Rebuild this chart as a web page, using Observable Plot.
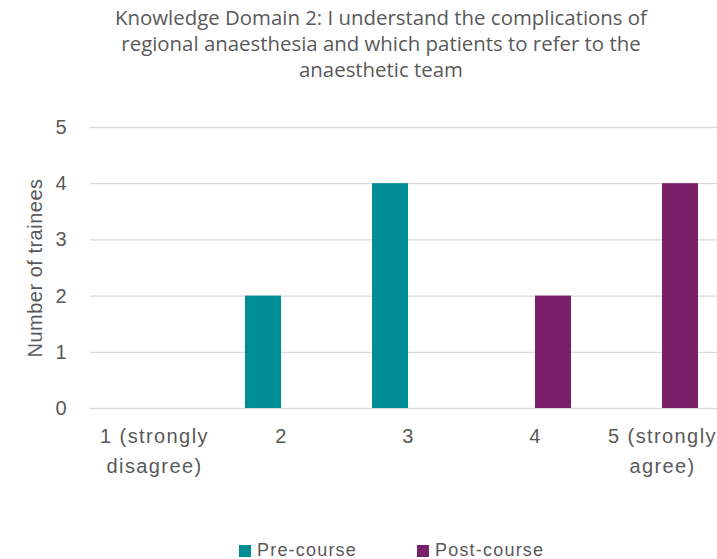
<!DOCTYPE html>
<html><head><meta charset="utf-8">
<script src="https://cdn.jsdelivr.net/npm/d3@7"></script>
<script src="https://cdn.jsdelivr.net/npm/@observablehq/plot@0.6"></script>
<style>
body{margin:0;background:#fff;}
#wrap{position:relative;width:717px;height:559px;overflow:hidden;background:#fff;}
#title{position:absolute;left:0;top:4px;width:762px;text-align:center;font-family:"Open Sans",sans-serif;font-size:20.4px;color:#595959;line-height:26px;}
#chart{position:absolute;left:0;top:100px;}
#legend{position:absolute;left:0;top:541px;width:717px;height:18px;font-family:"Liberation Sans",Arial,sans-serif;font-size:18px;line-height:18px;color:#595959;letter-spacing:1.2px;}
.sw{position:absolute;top:4px;width:12px;height:12px;}
.lt{position:absolute;top:0;white-space:nowrap;}
</style>
</head><body>
<div id="wrap">
  <div id="title"></div>
  <div id="chart"></div>
  <div id="legend"></div>
</div>
<script>
const titleLines = ["Knowledge Domain 2: I understand the complications of", "regional anaesthesia and which patients to refer to the", "anaesthetic team"];
const categories = ["1 (strongly disagree)", "2", "3", "4", "5 (strongly agree)"];
const tickLabels = ["1 (strongly\ndisagree)", "2", "3", "4", "5 (strongly\nagree)"];
const series = ["Pre-course", "Post-course"];
const colors = ["#008C95", "#7A1F6A"];
const preCourse = [0, 2, 4, 0, 0];
const postCourse = [0, 0, 0, 2, 4];
const yTicks = [0, 1, 2, 3, 4, 5];
const yLabel = "Number of trainees";

document.getElementById("title").innerHTML = titleLines.join("<br>");

const preData = categories.map((c, i) => ({cat: c, value: preCourse[i], series: series[0]}));
const postData = categories.map((c, i) => ({cat: c, value: postCourse[i], series: series[1]}));
const labelMap = new Map(categories.map((c, i) => [c, tickLabels[i]]));

const font = "'Liberation Sans', Arial, sans-serif";
const plot = Plot.plot({
  width: 717,
  height: 400,
  marginLeft: 90,
  marginRight: 0,
  marginTop: 27,
  marginBottom: 92,
  style: {fontFamily: font, color: "#595959", background: "transparent"},
  x: {type: "band", domain: categories, range: [88, 727], paddingInner: 0.718, paddingOuter: 0.359, align: 0.5},
  y: {domain: [0, 5]},
  color: {domain: series, range: colors},
  marks: [
    Plot.ruleY(yTicks, {stroke: "#d9d9d9", strokeWidth: 1.3}),
    Plot.barY(preData, {x: "cat", y: "value", fill: "series", dx: -18}),
    Plot.barY(postData, {x: "cat", y: "value", fill: "series", dx: 18}),
    Plot.axisY(yTicks, {tickSize: 0, tickPadding: 24, fontSize: 20, label: null, fill: "#595959", tickFormat: d3.format("d")}),
    Plot.axisX({tickSize: 0, tickPadding: 14, fontSize: 20, label: null, lineHeight: 1.47, fill: "#595959", tickFormat: d => labelMap.get(d)}),
    Plot.text([yLabel], {frameAnchor: "left", rotate: -90, dx: -55, fontSize: 20, fill: "#595959", textAnchor: "middle"})
  ]
});
d3.select(plot).selectAll('g[aria-label="x-axis tick label"]').style("letter-spacing", "1.4px");
d3.select(plot).selectAll('g[aria-label="text"]').style("letter-spacing", "0.5px");
document.getElementById("chart").appendChild(plot);

const legend = document.getElementById("legend");
const legendX = [239, 417];
series.forEach((s, i) => {
  const sw = document.createElement("span");
  sw.className = "sw";
  sw.style.left = legendX[i] + "px";
  sw.style.background = colors[i];
  legend.appendChild(sw);
  const lt = document.createElement("span");
  lt.className = "lt";
  lt.style.left = (legendX[i] + 18) + "px";
  lt.textContent = s;
  legend.appendChild(lt);
});
</script>
</body></html>
